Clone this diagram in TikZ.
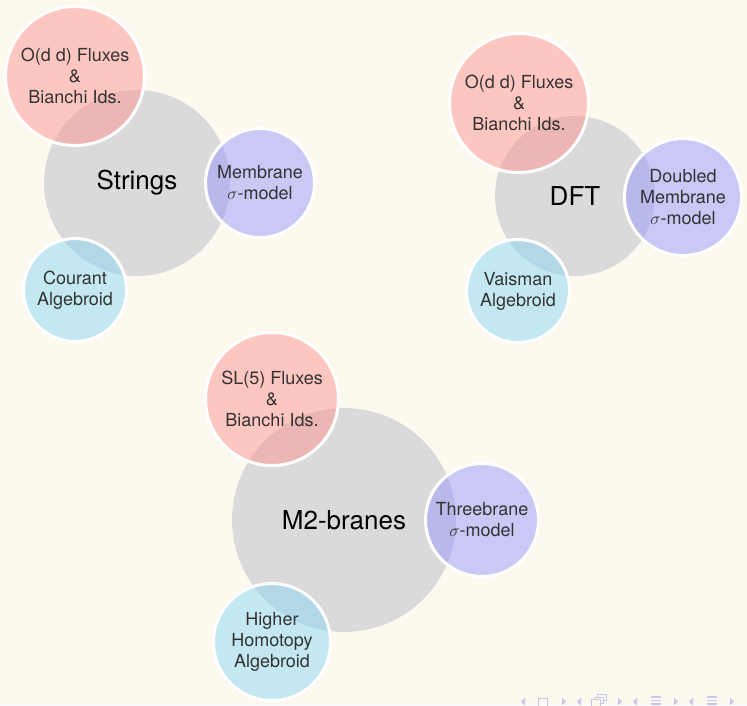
\documentclass[tikz,border=0pt]{standalone}
\usepackage{fontspec}
\setsansfont{TeX Gyre Heros}
\definecolor{cnBack}{HTML}{FDF9EF}
\definecolor{cnPlanet}{HTML}{DADADA}
\definecolor{cnRed}{HTML}{FF9492}
\definecolor{cnPurple}{HTML}{9998FC}
\definecolor{cnBlue}{HTML}{8BD8F6}
\definecolor{cnInk}{HTML}{333333}
\definecolor{cnNav}{HTML}{C6C6EE}
\tikzset{
 constel/.style={font=\sffamily,x=1pt,y=-1pt},
 planet/.style={circle,fill=cnPlanet,inner sep=0pt,text=black,
   font=\sffamily\fontsize{26}{30}\selectfont},
 satellite/.style={circle,draw=white,line width=3pt,fill opacity=.5,text opacity=1,
   inner sep=0pt,align=center,text=cnInk,font=\sffamily\fontsize{18}{21}\selectfont},
 fluxsat/.style={satellite,fill=cnRed},
 sigmasat/.style={satellite,fill=cnPurple},
 algsat/.style={satellite,fill=cnBlue},
 navtip/.style={fill=cnNav},
 navicon/.style={draw=cnNav,line width=.9pt}
}
\newcommand{\navPair}[1]{%
 \fill[navtip] (#1-2,697.5)--(#1-2,705.5)--(#1-6,701.5)--cycle;
 \fill[navtip] (#1+35,697.5)--(#1+35,705.5)--(#1+39,701.5)--cycle;}

\begin{document}
\begin{tikzpicture}[constel]
 \fill[cnBack] (0,0) rectangle (747,705);
 \useasboundingbox (0,0) rectangle (747,705);
 % Strings
 \node[planet,minimum size=186pt] (strings) at (137,183) {Strings};
 \node[fluxsat,minimum size=139pt] (stringsFlux) at (75,76) {O(d d) Fluxes\\\&\\Bianchi Ids.};
 \node[sigmasat,minimum size=109pt] (stringsSigma) at (260,183) {Membrane\\$\sigma$-model};
 \node[algsat,minimum size=103pt] (stringsAlg) at (75,290) {Courant\\Algebroid};
 % DFT
 \node[planet,minimum size=160pt] (dft) at (575,196) {DFT};
 \node[fluxsat,minimum size=139pt] (dftFlux) at (519,103) {O(d d) Fluxes\\\&\\Bianchi Ids.};
 \node[sigmasat,minimum size=117pt] (dftSigma) at (683,197) {Doubled\\Membrane\\$\sigma$-model};
 \node[algsat,minimum size=103pt] (dftAlg) at (518,291) {Vaisman\\Algebroid};
 % M2-branes
 \node[planet,minimum size=224pt] (mtwo) at (344,520) {M2-branes};
 \node[fluxsat,minimum size=133pt] (mtwoFlux) at (272,399) {SL(5) Fluxes\\\&\\Bianchi Ids.};
 \node[sigmasat,minimum size=113pt] (mtwoSigma) at (482,520) {Threebrane\\$\sigma$-model};
 \node[algsat,minimum size=117pt] (mtwoAlg) at (272,642) {Higher\\Homotopy\\Algebroid};
 % navigation symbols
 \foreach \x in {527,583,639,695}{\navPair{\x}}
 \draw[navicon] (538.5,698.5) rectangle (547.5,706);
 \draw[navicon,fill=cnBack] (597,694.5) rectangle (606,700.5);
 \draw[navicon,fill=cnBack] (594,697) rectangle (603,703);
 \draw[navicon,fill=cnBack] (591,699.5) rectangle (600,706);
 \foreach \x in {651,707}{
  \foreach \y in {697,700.5,704}{\draw[navicon,line width=1.6pt] (\x,\y)--(\x+10,\y);}}
\end{tikzpicture}
\end{document}
